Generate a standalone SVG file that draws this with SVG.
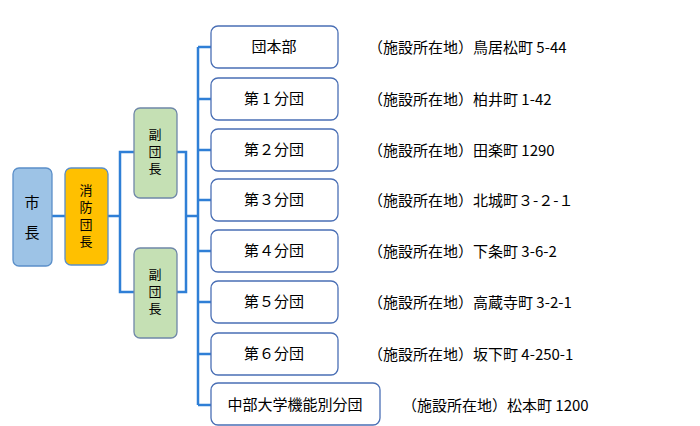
<svg xmlns="http://www.w3.org/2000/svg" width="700" height="426" viewBox="0 0 700 426">
<style>
text{font-family:"Noto Sans CJK JP","Liberation Sans",sans-serif;font-size:15px;fill:#000}
.v{font-size:13px}
.b{fill:#fff;stroke:#4a6fb5;stroke-width:1.3}
.c{fill:none;stroke:#2f7fd6;stroke-width:2.5}
.m{text-anchor:middle}
</style>
<g id="connectors" class="c">
<path d="M52 216H65M108 216H120M134 152H120V292H134M177 152H186V292H177M186 216H198M198 47V405"/>
<path d="M198 47H211M198 99H211M198 150H211M198 200H211M198 251H211M198 302H211M198 354H211M198 405H211"/>
</g>
<g id="mayor"><rect x="13" y="168" width="39" height="98" rx="6" fill="#9dc3e6" stroke="#5b8fc9" stroke-width="1.3"/><text class="m" x="32" y="208">市</text><text class="m" x="32" y="238">長</text></g>
<g id="chief"><rect x="65" y="168" width="43" height="97" rx="6" fill="#ffc000" stroke="#5b8fc9" stroke-width="1.3"/><text class="m v" x="86" y="195">消</text><text class="m v" x="86" y="212">防</text><text class="m v" x="86" y="229">団</text><text class="m v" x="86" y="246">長</text></g>
<g id="vice1"><rect x="134" y="108" width="43" height="90" rx="6" fill="#c5e0b4" stroke="#6f87a8" stroke-width="1.3"/><text class="m v" x="155" y="139">副</text><text class="m v" x="155" y="156">団</text><text class="m v" x="155" y="173">長</text></g>
<g id="vice2"><rect x="134" y="248" width="43" height="90" rx="6" fill="#c5e0b4" stroke="#6f87a8" stroke-width="1.3"/><text class="m v" x="155" y="279">副</text><text class="m v" x="155" y="296">団</text><text class="m v" x="155" y="313">長</text></g>
<g id="hq"><rect class="b" x="211" y="26" width="127" height="42" rx="7"/><text class="m" x="274" y="52">団本部</text><text x="368" y="53">（施設所在地）鳥居松町 5-44</text></g>
<g id="d1"><rect class="b" x="211" y="78" width="127" height="42" rx="7"/><text class="m" x="274" y="104">第 1 分団</text><text x="368" y="105">（施設所在地）柏井町 1-42</text></g>
<g id="d2"><rect class="b" x="211" y="129" width="127" height="42" rx="7"/><text class="m" x="274" y="155">第２分団</text><text x="368" y="156">（施設所在地）田楽町 1290</text></g>
<g id="d3"><rect class="b" x="211" y="179" width="127" height="42" rx="7"/><text class="m" x="274" y="205">第３分団</text><text x="368" y="206">（施設所在地）北城町３-２-１</text></g>
<g id="d4"><rect class="b" x="211" y="230" width="127" height="42" rx="7"/><text class="m" x="274" y="256">第４分団</text><text x="368" y="257">（施設所在地）下条町 3-6-2</text></g>
<g id="d5"><rect class="b" x="211" y="281" width="127" height="42" rx="7"/><text class="m" x="274" y="307">第５分団</text><text x="368" y="308">（施設所在地）高蔵寺町 3-2-1</text></g>
<g id="d6"><rect class="b" x="211" y="333" width="127" height="42" rx="7"/><text class="m" x="274" y="359">第６分団</text><text x="368" y="360">（施設所在地）坂下町 4-250-1</text></g>
<g id="d7"><rect class="b" x="211" y="383" width="169" height="42" rx="7"/><text class="m" x="295" y="410">中部大学機能別分団</text><text x="402" y="411">（施設所在地）松本町 1200</text></g>
</svg>
